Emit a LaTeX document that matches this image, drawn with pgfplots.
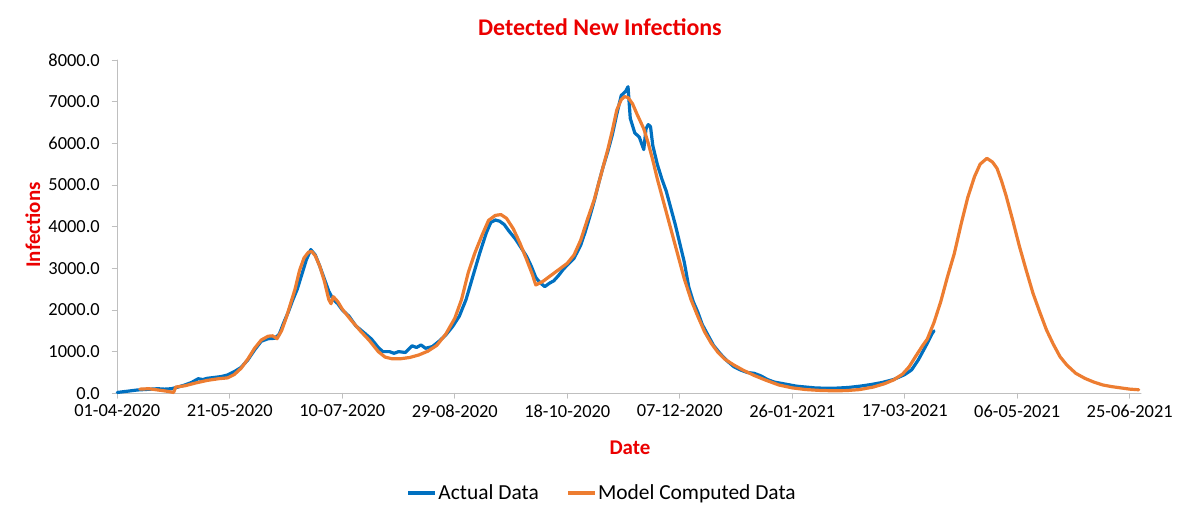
\documentclass[border=0pt]{standalone}
\usepackage{fontspec}
\setmainfont{Carlito}
\usepackage{pgfplots}
\pgfplotsset{compat=1.18}
\definecolor{xlblue}{RGB}{0,112,192}
\definecolor{xlorange}{RGB}{237,125,49}
\definecolor{axgray}{RGB}{191,191,191}
\definecolor{titlered}{RGB}{235,0,0}
\begin{document}
\begin{tikzpicture}
\useasboundingbox (-117.3bp,-125.7bp) rectangle (1082.7bp,393.3bp);
\begin{axis}[
 at={(0,0)}, anchor=south west,
 scale only axis, width=1023.7bp, height=333.3bp,
 xmin=0, xmax=455, ymin=0, ymax=8000,
 clip=false,
 axis x line*=bottom, axis y line*=left,
 axis line style={-, axgray, line width=1bp},
 tick align=outside, major tick length=5bp,
 tick style={axgray, line width=0.8bp},
 xtick={0,50,...,450},
 xticklabels={01-04-2020,21-05-2020,10-07-2020,29-08-2020,18-10-2020,07-12-2020,26-01-2021,17-03-2021,06-05-2021,25-06-2021},
 ytick={0,1000,...,8000},
 yticklabels={0.0,1000.0,2000.0,3000.0,4000.0,5000.0,6000.0,7000.0,8000.0},
 ticklabel style={font=\fontsize{18.5}{20}\selectfont, text=black},
 xticklabel style={yshift=-3bp},
 yticklabel style={xshift=-9bp},
 legend style={draw=none, fill=none, at={(0.4735,-0.299)}, anchor=center,
   font=\fontsize{21.5}{24}\selectfont, legend columns=2,
   nodes={inner sep=1.5bp},
   /tikz/every even column/.append style={column sep=26bp}},
 legend image code/.code={\draw[#1, line width=3.2bp, line cap=butt] (0bp,0bp) -- (27bp,0bp);},
 line join=round, line cap=round,
]
\addplot[xlblue, line width=3.2bp] coordinates {
(0,20)(3,40)(6,60)(9,80)(12,90)(15,100)(18,110)(21,100)(24,110)(27,150)(30,200)(33,260)(36,350)(38,330)(40,360)(43,380)(46,400)(49,440)(52,520)(55,620)(58,800)(61,1040)(64,1250)(67,1310)(70,1320)(72,1420)(74,1700)(76,1950)(78,2240)(80,2500)(82,2850)(84,3200)(86,3450)(88,3320)(90,3050)(92,2750)(94,2450)(96,2250)(98,2150)(100,2000)(103,1850)(106,1620)(110,1440)(113,1300)(116,1100)(118,1000)(121,1000)(123,960)(125,1000)(128,980)(131,1140)(133,1100)(135,1160)(137,1080)(140,1120)(143,1250)(146,1400)(149,1600)(152,1850)(155,2250)(158,2800)(161,3350)(164,3850)(166,4100)(168,4160)(170,4130)(172,4050)(174,3900)(177,3700)(180,3450)(182,3280)(184,3050)(186,2780)(188,2650)(190,2560)(192,2640)(194,2700)(196,2820)(198,2960)(200,3080)(203,3240)(206,3560)(208,3880)(210,4240)(212,4620)(214,5050)(216,5450)(218,5800)(220,6200)(222,6700)(224,7150)(226,7250)(227,7360)(228,6600)(230,6250)(232,6150)(233,6000)(234,5850)(235,6350)(236,6450)(237,6400)(238,5950)(240,5500)(242,5150)(244,4850)(246,4450)(248,4050)(250,3600)(252,3150)(254,2550)(256,2200)(258,1950)(260,1650)(262,1450)(265,1150)(268,950)(271,780)(274,640)(277,560)(280,500)(283,480)(286,420)(289,330)(292,270)(295,240)(298,210)(302,170)(306,150)(310,130)(315,120)(320,125)(325,140)(330,170)(335,210)(340,260)(345,330)(350,450)(353,560)(356,800)(358,1000)(360,1200)(362,1420)(363,1500)
};
\addlegendentry{Actual Data}
\addplot[xlorange, line width=3.2bp] coordinates {
(10,100)(14,110)(18,80)(22,50)(25,20)(26,150)(30,180)(35,250)(40,310)(45,350)(49,370)(52,450)(55,600)(58,820)(61,1080)(64,1280)(67,1370)(69,1380)(71,1310)(73,1500)(75,1800)(77,2150)(79,2500)(81,2950)(83,3250)(85,3390)(86.5,3400)(88,3300)(90,3050)(92,2700)(94,2250)(95,2150)(96,2320)(98,2200)(100,2020)(104,1750)(108,1500)(112,1270)(116,1000)(119,870)(122,830)(126,830)(130,860)(134,920)(138,1010)(142,1150)(146,1420)(150,1800)(153,2250)(156,2900)(159,3380)(162,3780)(165,4150)(168,4270)(170.5,4290)(173,4200)(176,3950)(179,3600)(182,3200)(184.5,2850)(186,2600)(189,2680)(192,2800)(196,2960)(200,3120)(203,3320)(206,3680)(209,4180)(212,4650)(215,5250)(218,5850)(220,6300)(222,6800)(224,7050)(225.5,7120)(227,7100)(229,6950)(231,6700)(234,6350)(236,6000)(238,5600)(240,5150)(243,4550)(246,3950)(249,3350)(252,2750)(255,2250)(258,1850)(261,1480)(264,1200)(267,980)(270,820)(274,680)(278,560)(283,430)(288,320)(294,200)(300,130)(306,90)(312,70)(318,60)(324,65)(330,90)(336,150)(341,230)(345,320)(349,460)(352,640)(355,900)(358,1150)(360,1300)(363,1700)(366,2200)(369,2800)(372,3350)(375,4050)(378,4700)(381,5200)(383.5,5500)(386.5,5640)(389,5550)(391,5400)(393,5100)(395,4750)(398,4150)(401,3520)(404,2950)(407,2400)(410,1950)(413,1520)(416,1180)(419,880)(422,680)(426,480)(430,360)(434,270)(438,200)(442,160)(446,130)(450,100)(454,85)
};
\addlegendentry{Model Computed Data}
\node[font=\bfseries\fontsize{24}{26}\selectfont, text=titlered] at (rel axis cs:0.4715,1.099) {Detected New Infections};
\node[font=\bfseries\fontsize{21}{23}\selectfont, text=titlered] at (rel axis cs:0.5008,-0.164) {Date};
\node[font=\bfseries\fontsize{21}{23}\selectfont, text=titlered, rotate=90] at (rel axis cs:-0.0824,0.505) {Infections};
\end{axis}
\end{tikzpicture}
\end{document}
